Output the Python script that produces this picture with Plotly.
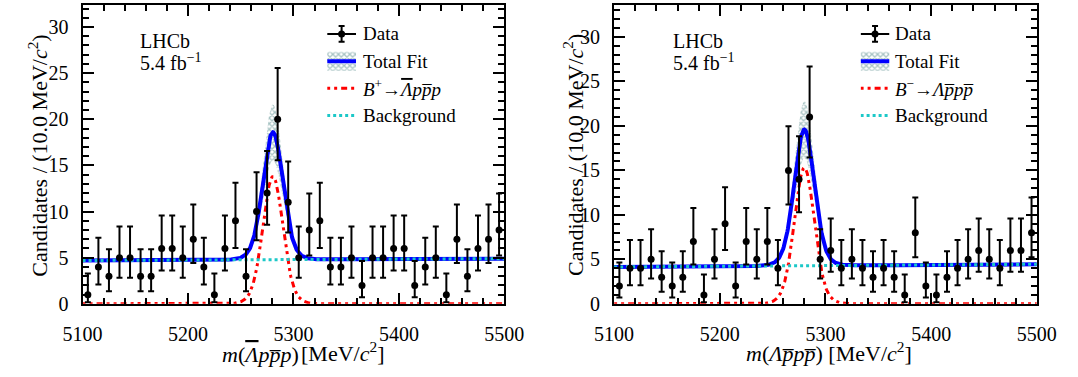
import numpy as np
import plotly.graph_objects as go

W, H = 1078, 377

# ---------------- data ----------------
bin_centers = [5105, 5115, 5125, 5135, 5145, 5155, 5165, 5175, 5185, 5195,
               5205, 5215, 5225, 5235, 5245, 5255, 5265, 5275, 5285, 5295,
               5305, 5315, 5325, 5335, 5345, 5355, 5365, 5375, 5385, 5395,
               5405, 5415, 5425, 5435, 5445, 5455, 5465, 5475, 5485, 5495]
counts_left = [1, 4, 3, 5, 5, 3, 3, 6, 6, 5,
               7, 4, 1, 6, 9, 3, 10, 12, 20, 11,
               5, 8, 9, 4, 4, 5, 2, 5, 5, 6,
               6, 2, 4, 5, 1, 7, 3, 6, 7, 8]
counts_right = [2, 4, 4, 5, 3, 2, 3, 7, 1, 5,
                9, 2, 7, 5, 7, 4, 15, 14, 21, 5,
                6, 4, 5, 4, 3, 4, 3, 1, 8, 2,
                1, 3, 4, 5, 6, 5, 4, 6, 6, 8]

# Garwood (Poisson 68.3%) interval lookup for n = 0..22
garwood_low = [0.0, 0.173, 0.708, 1.367, 2.086, 2.840, 3.620, 4.419, 5.232, 6.057,
               6.891, 7.734, 8.585, 9.441, 10.30, 11.17, 12.04, 12.92, 13.80, 14.68,
               15.57, 16.46, 17.35]
garwood_high = [1.841, 3.300, 4.638, 5.918, 7.163, 8.382, 9.584, 10.77, 11.95, 13.11,
                14.27, 15.42, 16.56, 17.70, 18.83, 19.96, 21.08, 22.20, 23.32, 24.44,
                25.55, 26.66, 27.76]

# fit parameters
fit_left = dict(mean=5280.5, peak=13.8, s1=9.0, s2=14.0, f2=0.15, b0=4.70, b1=4.90, band=0.22)
fit_right = dict(mean=5280.0, peak=15.3, s1=9.0, s2=14.0, f2=0.15, b0=4.15, b1=4.45, band=0.21)

x_ticks = [5100, 5200, 5300, 5400, 5500]
y_ticks = [0, 5, 10, 15, 20, 25, 30]
y_max_left, y_max_right = 32.4, 33.6

PBAR = "<i>p\u0305</i>"
LBAR = "<span style='text-decoration:overline'><i>Λ</i></span>"
leg_left = ["Data", "Total Fit",
            "<i>B</i><sup>+</sup>→" + LBAR + "<i>p</i>" + PBAR + "<i>p</i>",
            "Background"]
leg_right = ["Data", "Total Fit",
             "<i>B</i><sup>−</sup>→<i>Λ</i>" + PBAR + "<i>p</i>" + PBAR,
             "Background"]
# left title split in two so that the overline run has no superscript after it
xtitle_left_a = "<i>m</i>(" + LBAR + "<i>p</i>" + PBAR + "<i>p</i>)"
xtitle_left_b = "[MeV/<i>c</i><sup>2</sup>]"
xtitle_right = "<i>m</i>(<i>Λ</i>" + PBAR + "<i>p</i>" + PBAR + ") [MeV/<i>c</i><sup>2</sup>]"
ytitle = "Candidates / (10.0 MeV/<i>c</i><sup>2</sup>)"

FONT = "Liberation Serif"
BLUE = "#0000ff"
RED = "#ff0000"
CYAN = "#1cc8c8"
HATCH = "#4f8888"


def px(xp):
    return xp / W


def py(yp):
    return 1 - yp / H


def model(p, xs):
    d = xs - p["mean"]
    sig = p["peak"] * ((1 - p["f2"]) * np.exp(-d**2 / (2 * p["s1"]**2)) +
                       p["f2"] * np.exp(-d**2 / (2 * p["s2"]**2)))
    bkg = p["b0"] + (p["b1"] - p["b0"]) * (xs - 5100) / 400.0
    return sig, bkg


fig = go.Figure()
xs = np.linspace(5100, 5500, 801)

panels = [
    dict(counts=counts_left, fit=fit_left, xa="x", ya="y", xl="x3", yl="y3"),
    dict(counts=counts_right, fit=fit_right, xa="x2", ya="y2", xl="x4", yl="y4"),
]

hatch = dict(shape="x", fgcolor=HATCH, bgcolor="rgba(255,255,255,0)", size=4, solidity=0.55)

for pnl in panels:
    sig, bkg = model(pnl["fit"], xs)
    tot = sig + bkg
    k = pnl["fit"]["band"]
    xa, ya = pnl["xa"], pnl["ya"]
    fig.add_trace(go.Scatter(x=xs, y=tot - k * sig, mode="lines", line=dict(width=0),
                             xaxis=xa, yaxis=ya, hoverinfo="skip"))
    fig.add_trace(go.Scatter(x=xs, y=tot + k * sig, mode="lines", line=dict(width=0),
                             fill="tonexty", fillcolor="rgba(0,0,0,0)", fillpattern=hatch,
                             xaxis=xa, yaxis=ya, hoverinfo="skip"))
    fig.add_trace(go.Scatter(x=xs, y=tot, mode="lines", line=dict(color=BLUE, width=4),
                             xaxis=xa, yaxis=ya))
    fig.add_trace(go.Scatter(x=xs, y=sig, mode="lines",
                             line=dict(color=RED, width=3, dash="3px,4px,3px,4px,6px,4px"),
                             xaxis=xa, yaxis=ya))
    fig.add_trace(go.Scatter(x=xs, y=bkg, mode="lines",
                             line=dict(color=CYAN, width=3, dash="3px,3px"),
                             xaxis=xa, yaxis=ya))
    n = pnl["counts"]
    up = [garwood_high[v] - v for v in n]
    dn = [v - garwood_low[v] for v in n]
    fig.add_trace(go.Scatter(x=bin_centers, y=n, mode="markers",
                             marker=dict(color="black", size=7),
                             error_y=dict(type="data", symmetric=False, array=up, arrayminus=dn,
                                          color="black", thickness=2, width=3),
                             xaxis=xa, yaxis=ya, cliponaxis=False))

    # legend glyphs (in their own small axes)
    xl, yl = pnl["xl"], pnl["yl"]
    fig.add_trace(go.Scatter(x=[0, 1], y=[0.5, 0.5], mode="lines", line=dict(color="black", width=2),
                             xaxis=xl, yaxis=yl))
    fig.add_trace(go.Scatter(x=[0.5], y=[0.5], mode="markers", marker=dict(color="black", size=7),
                             error_y=dict(type="constant", value=0.29, color="black", thickness=2, width=3),
                             xaxis=xl, yaxis=yl))
    fig.add_trace(go.Scatter(x=[0, 1, 1, 0, 0], y=[1.15, 1.15, 1.85, 1.85, 1.15], mode="lines",
                             line=dict(width=0), fill="toself", fillcolor="rgba(0,0,0,0)",
                             fillpattern=hatch, xaxis=xl, yaxis=yl))
    fig.add_trace(go.Scatter(x=[0, 1], y=[1.5, 1.5], mode="lines", line=dict(color=BLUE, width=4),
                             xaxis=xl, yaxis=yl))
    fig.add_trace(go.Scatter(x=[0, 1], y=[2.5, 2.5], mode="lines",
                             line=dict(color=RED, width=3, dash="3px,4px,3px,4px,6px,4px"),
                             xaxis=xl, yaxis=yl))
    fig.add_trace(go.Scatter(x=[0, 1], y=[3.5, 3.5], mode="lines",
                             line=dict(color=CYAN, width=3, dash="3px,3px"),
                             xaxis=xl, yaxis=yl))

tickfont = dict(family=FONT, size=20, color="black")
frame_x = dict(range=[5100, 5500], tickvals=x_ticks, ticks="inside", ticklen=11, tickwidth=1.5,
               tickcolor="black", mirror="allticks", showline=True, linewidth=2, linecolor="black",
               showgrid=False, zeroline=False, tickfont=tickfont, ticklabelstandoff=11,
               minor=dict(dtick=20, ticks="inside", ticklen=6, tickwidth=1.5, tickcolor="black",
                          showgrid=False))
frame_y = dict(tickvals=y_ticks, ticks="inside", ticklen=11, tickwidth=1.5,
               tickcolor="black", mirror="allticks", showline=True, linewidth=2, linecolor="black",
               showgrid=False, zeroline=False, tickfont=tickfont, ticklabelstandoff=8,
               minor=dict(dtick=1, ticks="inside", ticklen=6, tickwidth=1.5, tickcolor="black",
                          showgrid=False))

ybot, ytop = py(313), py(5)
hidden = dict(visible=False, showgrid=False, zeroline=False, fixedrange=True)

fig.update_layout(
    width=W, height=H, margin=dict(l=0, r=0, t=0, b=0),
    paper_bgcolor="white", plot_bgcolor="white", showlegend=False,
    font=dict(family=FONT, color="black"),
    xaxis=dict(frame_x, domain=[px(65), px(503)], anchor="y"),
    yaxis=dict(frame_y, domain=[ybot, ytop], range=[0, y_max_left], anchor="x"),
    xaxis2=dict(frame_x, domain=[px(617), px(1056)], anchor="y2"),
    yaxis2=dict(frame_y, domain=[ybot, ytop], range=[0, y_max_right], anchor="x2"),
    xaxis3=dict(hidden, domain=[px(319), px(349)], range=[0, 1], anchor="y3"),
    yaxis3=dict(hidden, domain=[py(133), py(21)], range=[4, 0], anchor="x3"),
    xaxis4=dict(hidden, domain=[px(873), px(903)], range=[0, 1], anchor="y4"),
    yaxis4=dict(hidden, domain=[py(133), py(21)], range=[4, 0], anchor="x4"),
)

ann = []


def text(x, y, s, size, xanchor="left", angle=0):
    ann.append(dict(x=px(x), y=py(y), xref="paper", yref="paper", text=s, showarrow=False,
                    xanchor=xanchor, yanchor="middle", textangle=angle,
                    font=dict(family=FONT, size=size, color="black")))


rows_y = [35, 63, 91, 119]
for lbl, yv in zip(leg_left, rows_y):
    text(354, yv, lbl, 19)
for lbl, yv in zip(leg_right, rows_y):
    text(907, yv, lbl, 19)

text(123, 42, "LHCb", 20)
text(123, 64, "5.4 fb<sup>−1</sup>", 20)
text(676, 42, "LHCb", 20)
text(676, 64, "5.4 fb<sup>−1</sup>", 20)

text(208, 365, xtitle_left_a, 22, xanchor="left")
text(290, 363, xtitle_left_b, 22, xanchor="left")
text(840, 363, xtitle_right, 22, xanchor="center")
text(19, 160, ytitle, 22, xanchor="center", angle=-90)
text(575, 160, ytitle, 22, xanchor="center", angle=-90)

fig.update_layout(annotations=ann)
fig.write_html("out.html")
